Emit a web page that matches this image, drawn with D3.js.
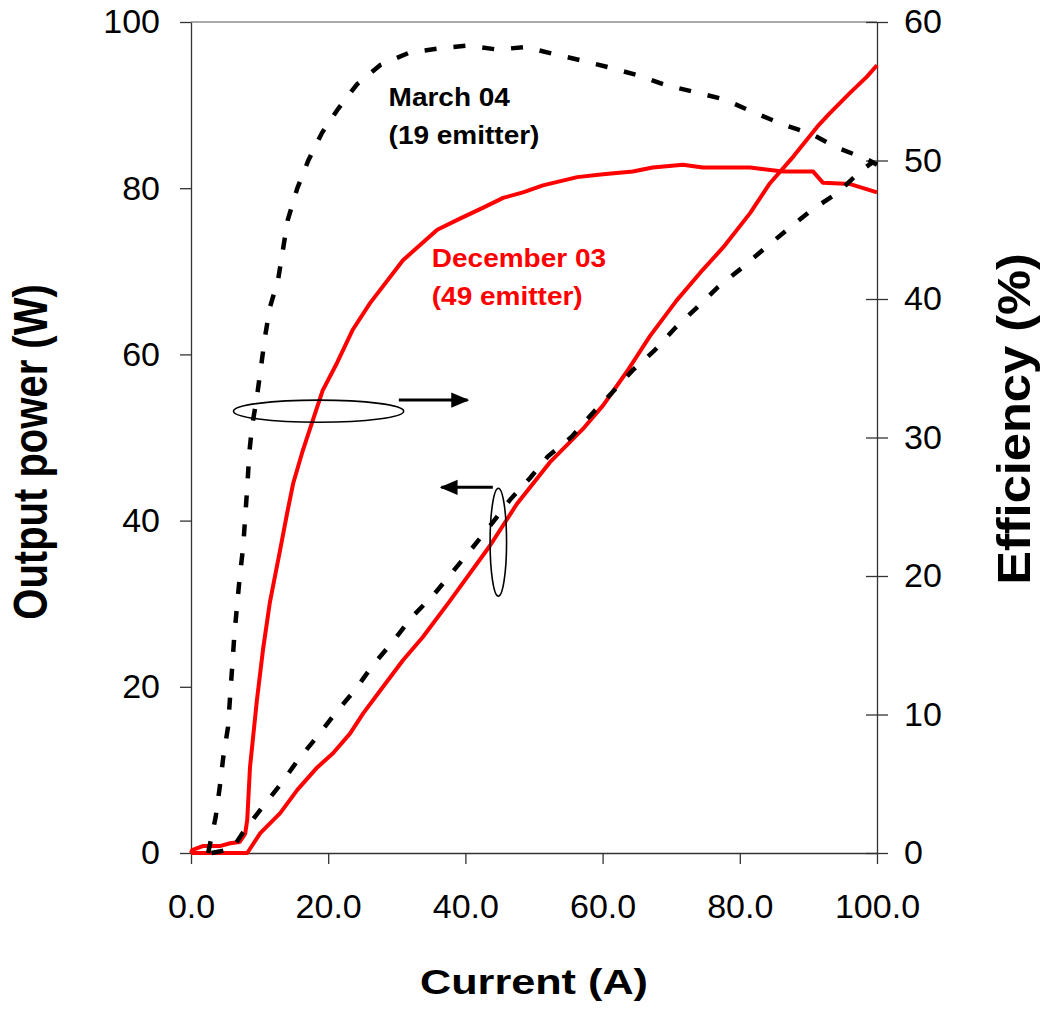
<!DOCTYPE html>
<html>
<head>
<meta charset="utf-8">
<title>Output power and efficiency vs current</title>
<script src="https://cdn.jsdelivr.net/npm/d3@7"></script>
<style>
  body { margin: 0; background: #fff; }
  text { font-family: "Liberation Sans", Arial, sans-serif; }
  .axis path, .axis line { stroke: #333; stroke-width: 1.3px; }
  .axis text { font-size: 34px; fill: #000; }
</style>
</head>
<body>
<script>
// current (A) / efficiency (%) - March 04, 19 emitter
var marchEffCurrent = [2.5,3.6,4.2,4.7,5.4,5.7,6.0,6.3,6.7,7.1,7.6,8.2,8.5,8.9,9.6,10.2,10.8,11.5,12.7,14.1,15.5,17.1,19.1,21.4,24.2,27.6,31.9,36.3,40.4,44.8,48.7,52.8,57.1,61.1,65.5,69.5,73.8,77.8,81.9,86.3,90.5,94.3,98.5,100];
var marchEff = [0,2.6,4.8,6.9,9.1,11.3,13.4,15.6,17.8,19.9,22.1,26.4,28.9,30.8,32.9,35.1,37.3,39.4,41.4,45.7,48.0,50.0,52.0,53.7,55.5,56.9,57.8,58.1,58.3,58.0,58.2,57.7,57.2,56.7,56.1,55.4,54.9,54.4,53.5,52.6,51.9,50.9,50.1,49.7];
// current (A) / output power (W) - March 04
var marchPowCurrent = [3,6,7.6,10.3,13.0,15.6,18.4,21.0,23.9,26.5,29.4,32.2,35.3,38.0,41.0,43.9,46.5,49.4,52.0,55.5,58.5,61.5,64.4,67.6,70.6,73.7,76.8,80.3,83.4,86.9,90.5,94.2,97.8,99.5];
var marchPow = [0,0.5,2.5,5.4,8.2,11.2,14.0,16.8,19.6,22.6,25.4,28.4,31.0,33.7,36.7,39.7,42.5,45.1,47.7,50.1,52.9,55.5,58.1,60.5,63.2,65.6,68.1,70.4,72.6,75.0,77.4,79.4,82.2,83.2];
// current (A) / efficiency (%) - December 03, 49 emitter
var decEffCurrent = [0,0.15,1.7,4.2,5.7,7.1,7.9,8.2,8.6,9.6,10.5,11.5,13.0,14.0,14.9,16.2,17.8,19.2,21.3,23.6,26.1,30.9,35.9,39.2,42.6,45.5,48.4,51.3,56.3,60.1,64.4,67.3,71.7,74.6,78.1,81.5,86.3,90.7,92.1,96.1,100];
var decEff = [0,0.2,0.5,0.5,0.7,0.8,1.4,2.4,6.2,11.0,14.7,18.1,21.9,24.5,26.7,28.9,31.3,33.4,35.4,37.8,39.7,42.8,45.0,45.8,46.6,47.3,47.7,48.2,48.8,49.0,49.2,49.5,49.7,49.5,49.5,49.5,49.2,49.2,48.4,48.3,47.7];
// current (A) / output power (W) - December 03
var decPowCurrent = [0,8.2,10.1,13.0,15.5,18.4,20.7,23.2,25.1,28.0,30.9,33.8,37.8,43.6,47.5,52.3,57.1,60.1,63.6,66.9,70.8,74.2,77.6,81.5,84.4,87.8,91.3,93.1,96.1,98.5,100];
var decPow = [0,0,2.4,4.8,7.6,10.3,12.0,14.4,16.8,20.0,23.2,26.0,30.4,37.0,42.0,47.0,51.0,53.9,58.0,62.2,66.5,69.8,72.9,77.0,80.6,83.8,87.4,89.0,91.5,93.4,94.8];

var xTicks = [0,20,40,60,80,100];
var leftTicks = [0,20,40,60,80,100];
var rightTicks = [0,10,20,30,40,50,60];

var width = 1043, height = 1010;
var m = { top: 22, right: 166, bottom: 157, left: 191 };

var svg = d3.select('body').append('svg').attr('width', width).attr('height', height);

var x = d3.scaleLinear().domain([0,100]).range([m.left, width - m.right]);
var yL = d3.scaleLinear().domain([0,100]).range([height - m.bottom, m.top]);
var yR = d3.scaleLinear().domain([0,60]).range([height - m.bottom, m.top]);

// top frame line
svg.append('line')
  .attr('x1', x(0)).attr('x2', x(100)).attr('y1', yL(100)).attr('y2', yL(100))
  .attr('stroke', '#555').attr('stroke-width', 1.2);

// axes
svg.append('g').attr('class', 'axis')
  .attr('transform', 'translate(0,' + yL(0) + ')')
  .call(d3.axisBottom(x).tickValues(xTicks).tickFormat(d3.format('.1f')).tickSize(11).tickSizeOuter(0).tickPadding(30));

svg.append('g').attr('class', 'axis')
  .attr('transform', 'translate(' + x(0) + ',0)')
  .call(d3.axisLeft(yL).tickValues(leftTicks).tickSize(11).tickSizeOuter(0).tickPadding(20));

svg.append('g').attr('class', 'axis')
  .attr('transform', 'translate(' + x(100) + ',0)')
  .call(d3.axisRight(yR).tickValues(rightTicks).tickSize(11).tickSizeOuter(0).tickPadding(16));
// inner half of the crossing ticks on the right axis
svg.append('g').attr('class', 'axis')
  .attr('transform', 'translate(' + x(100) + ',0)')
  .call(d3.axisLeft(yR).tickValues(rightTicks).tickSize(11).tickSizeOuter(0).tickFormat(''))
  .select('.domain').remove();

// curves
function pairs(xs, ys) { return xs.map(function(v, i) { return [v, ys[i]]; }); }
var lineL = d3.line().x(function(d) { return x(d[0]); }).y(function(d) { return yL(d[1]); });
var lineR = d3.line().x(function(d) { return x(d[0]); }).y(function(d) { return yR(d[1]); });

svg.append('path').attr('d', lineR(pairs(decEffCurrent, decEff)))
  .attr('fill', 'none').attr('stroke', '#ff0000').attr('stroke-width', 4).attr('stroke-linejoin', 'round');
svg.append('path').attr('d', lineL(pairs(decPowCurrent, decPow)))
  .attr('fill', 'none').attr('stroke', '#ff0000').attr('stroke-width', 4).attr('stroke-linejoin', 'round');
svg.append('path').attr('d', lineR(pairs(marchEffCurrent, marchEff)))
  .attr('fill', 'none').attr('stroke', '#000').attr('stroke-width', 4.5).attr('stroke-dasharray', '12,17');
svg.append('path').attr('d', lineL(pairs(marchPowCurrent, marchPow)))
  .attr('fill', 'none').attr('stroke', '#000').attr('stroke-width', 4.5).attr('stroke-dasharray', '12,17');

// ellipses and arrows
svg.append('defs').append('marker')
  .attr('id', 'head').attr('viewBox', '0 0 10 10').attr('refX', 9).attr('refY', 5)
  .attr('markerWidth', 6).attr('markerHeight', 6).attr('markerUnits', 'strokeWidth')
  .attr('orient', 'auto')
  .append('path').attr('d', 'M0,0.8L10,5L0,9.2Z').attr('fill', '#000');

svg.append('ellipse')
  .attr('cx', x(18.6)).attr('cy', yR(31.9))
  .attr('rx', x(31) - x(18.6)).attr('ry', yR(0) - yR(0.8))
  .attr('fill', 'none').attr('stroke', '#000').attr('stroke-width', 1.6);
svg.append('line')
  .attr('x1', x(30.3)).attr('y1', yR(32.7)).attr('x2', x(40.3)).attr('y2', yR(32.7))
  .attr('stroke', '#000').attr('stroke-width', 3).attr('marker-end', 'url(#head)');

svg.append('ellipse')
  .attr('cx', x(44.8)).attr('cy', yL(37.4))
  .attr('rx', x(1.2) - x(0)).attr('ry', yL(0) - yL(6.5))
  .attr('fill', 'none').attr('stroke', '#000').attr('stroke-width', 1.6);
svg.append('line')
  .attr('x1', x(44.0)).attr('y1', yL(44.0)).attr('x2', x(36.5)).attr('y2', yL(44.0))
  .attr('stroke', '#000').attr('stroke-width', 3).attr('marker-end', 'url(#head)');

// series labels
function label(txt, xv, yv, col) {
  svg.append('text')
    .attr('transform', 'translate(' + x(xv) + ',' + yR(yv) + ') scale(1.12,1)')
    .attr('font-size', 25).attr('font-weight', 'bold').attr('fill', col).text(txt);
}
label('March 04', 28.8, 53.9, '#000');
label('(19 emitter)', 28.8, 51.2, '#000');
label('December 03', 35.1, 42.3, '#ff0000');
label('(49 emitter)', 35.1, 39.6, '#ff0000');

// axis titles
svg.append('text')
  .attr('transform', 'translate(' + ((x(0) + x(100)) / 2) + ',994) scale(1.2,1)')
  .attr('text-anchor', 'middle').attr('font-size', 36).attr('font-weight', 'bold')
  .text('Current (A)');
svg.append('text')
  .attr('transform', 'translate(47,452) scale(1.2,1) rotate(-90)')
  .attr('text-anchor', 'middle').attr('font-size', 40).attr('font-weight', 'bold')
  .text('Output power (W)');
svg.append('text')
  .attr('transform', 'translate(1030,419) rotate(-90) scale(1.1,1)')
  .attr('text-anchor', 'middle').attr('font-size', 46).attr('font-weight', 'bold')
  .text('Efficiency (%)');
</script>
</body>
</html>
